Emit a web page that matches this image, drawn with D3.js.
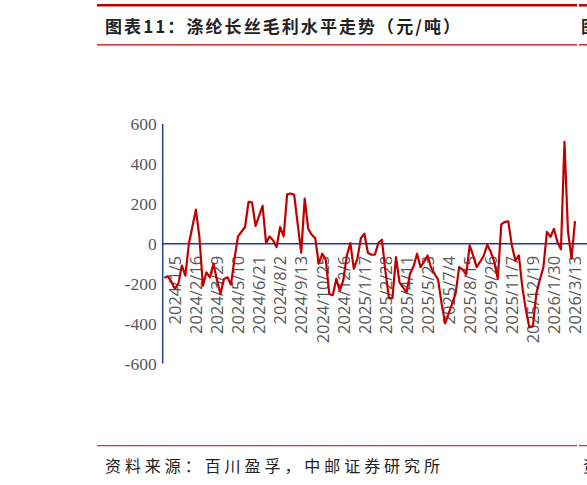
<!DOCTYPE html>
<html>
<head>
<meta charset="utf-8">
<script src="https://cdn.jsdelivr.net/npm/d3@7"></script>
<style>
  body { margin: 0; background: #fff; }
  svg { display: block; }
</style>
</head>
<body>
<div id="vis"></div>
<script>
var width = 587, height = 485;

// weekly series, first week 2023/12/15
var startDate = "2023-12-15";
var values = [
  -170, -163, -190, -226, -201, -109, -160, 0, 85, 171,
  34, -210, -143, -168, -100, -181, -252, -176, -168, -205,
  -75, 37, 60, 84, 210, 206, 89, 140, 190, 3,
  37, 17, -17, 84, 37, 248, 252, 245, 100, -45,
  226, 75, 45, 28, -100, -50, -80, -252, -258, -176,
  -235, -182, -59, 3, -126, -75, 28, 50, -45, -55,
  -55, 5, 20, -140, -272, -272, -67, -193, -218, -245,
  -150, -114, -50, -117, -90, -59, -120, -150, -180, -300,
  -399, -350, -300, -248, -117, -130, -155, -8, -60, -117,
  -90, -60, -5, -40, -90, -176, 97, 109, 112, -8,
  -84, -58, -218, -330, -419, -414, -248, -180, -117, 59,
  34, 75, 8, -28, 511, 63, -75, 113
];
var xTickLabels = ["2024/1/5", "2024/2/16", "2024/3/29", "2024/5/10", "2024/6/21",
  "2024/8/2", "2024/9/13", "2024/10/25", "2024/12/6", "2025/1/17", "2025/2/28",
  "2025/4/11", "2025/5/23", "2025/7/4", "2025/8/15", "2025/9/26", "2025/11/7",
  "2025/12/19", "2026/1/30", "2026/3/13"];
var yTicks = [-600, -400, -200, 0, 200, 400, 600];

var fmt = d3.timeFormat("%Y/%-m/%-d");
var t0 = d3.timeParse("%Y-%m-%d")(startDate);
var dates = values.map((v, i) => fmt(d3.timeWeek.offset(t0, i)));
var data = values.map((v, i) => ({ date: dates[i], value: v }));

var svg = d3.select("#vis").append("svg")
    .attr("width", width)
    .attr("height", height);

var red = "#c00000", navy = "#203f8a";

// header / footer rules (left panel, then the start of the next one)
function rule(y, w) {
    svg.append("line").attr("x1", 97).attr("x2", 577).attr("y1", y).attr("y2", y)
        .attr("stroke", red).attr("stroke-width", w);
    svg.append("line").attr("x1", 579).attr("x2", 587).attr("y1", y).attr("y2", y)
        .attr("stroke", red).attr("stroke-width", w);
}
rule(5.3, 2.5);
rule(44.8, 1.3);
rule(445.7, 1);

svg.append("text")
    .attr("x", 105).attr("y", 33)
    .attr("textLength", 355).attr("lengthAdjust", "spacing")
    .style("font-family", "'Noto Sans CJK SC', sans-serif")
    .style("font-size", "17px").style("font-weight", "bold")
    .style("fill", "#222")
    .text("图表11：涤纶长丝毛利水平走势（元/吨）");
svg.append("text")
    .attr("x", 581).attr("y", 33)
    .style("font-family", "'Noto Sans CJK SC', sans-serif")
    .style("font-size", "17px").style("font-weight", "bold")
    .style("fill", "#222")
    .text("图表12");

svg.append("text")
    .attr("x", 105).attr("y", 472)
    .attr("textLength", 335).attr("lengthAdjust", "spacing")
    .style("font-family", "'Noto Sans CJK SC', sans-serif")
    .style("font-size", "16px")
    .style("fill", "#222")
    .text("资料来源：百川盈孚，中邮证券研究所");
svg.append("text")
    .attr("x", 583).attr("y", 472)
    .style("font-family", "'Noto Sans CJK SC', sans-serif")
    .style("font-size", "16px")
    .style("fill", "#222")
    .text("资料");

// scales
var x = d3.scalePoint().domain(dates).range([164.3, 575]);
var y = d3.scaleLinear().domain([-600, 600]).range([363.5, 124]);

// y labels
var yAxis = d3.axisLeft(y).tickValues(yTicks).tickSize(0).tickPadding(6)
    .tickFormat(d => d);
var gy = svg.append("g")
    .attr("transform", "translate(162.7,0)")
    .call(yAxis);
gy.select(".domain").remove();
gy.attr("font-family", null).attr("font-size", null);
gy.selectAll("text")
    .style("font-family", "'Liberation Serif', 'Times New Roman', serif")
    .style("font-size", "17.5px")
    .style("fill", "#595959");

// x labels, hanging under the zero line
var xAxis = d3.axisBottom(x).tickValues(xTickLabels).tickSize(0);
var gx = svg.append("g")
    .attr("transform", "translate(0," + y(0) + ")")
    .call(xAxis);
gx.select(".domain").remove();
gx.selectAll("text")
    .attr("transform", "translate(0,12) rotate(-90)")
    .attr("x", 0).attr("y", 0).attr("dy", "0.35em")
    .style("text-anchor", "end")
    .style("font-family", "'Open Sans', 'Liberation Sans', sans-serif")
    .style("font-size", "16.5px")
    .style("fill", "#595959");

// axis lines
svg.append("line")
    .attr("x1", 162.7).attr("x2", 162.7)
    .attr("y1", y(600)).attr("y2", y(-600))
    .attr("stroke", navy).attr("stroke-width", 1.5);
svg.append("line")
    .attr("x1", 162.7).attr("x2", width)
    .attr("y1", y(0)).attr("y2", y(0))
    .attr("stroke", navy).attr("stroke-width", 1.3);

// series
var line = d3.line()
    .x(d => x(d.date))
    .y(d => y(d.value));

svg.append("path")
    .datum(data)
    .attr("fill", "none")
    .attr("stroke", red)
    .attr("stroke-width", 2.2)
    .attr("stroke-linejoin", "round")
    .attr("d", line);
</script>
</body>
</html>
